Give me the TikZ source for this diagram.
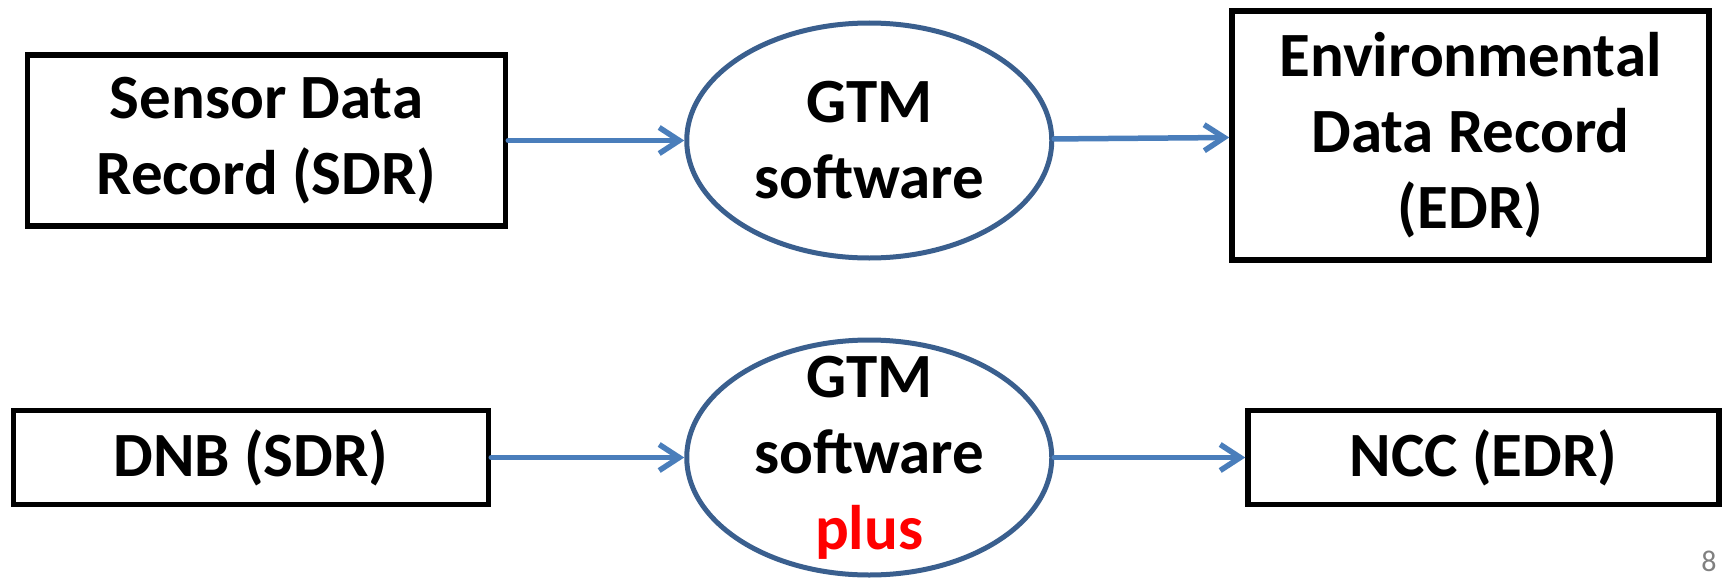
\documentclass[tikz,border=0pt]{standalone}
\usepackage{fontspec}
\setmainfont{Carlito}
\usetikzlibrary{arrows.meta,positioning,shapes.geometric}
\definecolor{flowblue}{HTML}{4A7EBB}
\definecolor{rimblue}{HTML}{3A5F8E}

\begin{document}
\begin{tikzpicture}[x=1pt,y=-1pt,
font=\bfseries\fontsize{63}{76}\selectfont,
record/.style={draw,line width=5.5pt,align=center,inner sep=0pt},
tool/.style={ellipse,draw=rimblue,line width=5pt,inner sep=0pt,minimum width=365pt,minimum height=235pt},
arr/.style={-{Straight Barb[length=20pt,width=26pt]},draw=flowblue,line width=5.5pt,line cap=round}]
\useasboundingbox (0,0) rectangle (1723,578);
\node[record,minimum width=478pt,minimum height=171pt](sdr) at (266.5,140.5){Sensor Data\\Record (SDR)};
\node[tool,right=176pt of sdr,label={[align=center]center:GTM\\software}](gtm){};
\node[record,minimum width=477pt,minimum height=249pt,right=175pt of gtm,yshift=5pt](edr){Environmental\\Data Record\\(EDR)};
\node[record,minimum width=475pt,minimum height=94pt](dnb) at (251,457.5){DNB (SDR)};
\node[tool,right=193pt of dnb,label={[align=center]center:GTM\\software\\\textcolor{red}{plus}}](gtmplus){};
\node[record,minimum width=471pt,minimum height=94pt,right=191pt of gtmplus](ncc){NCC (EDR)};
\node[font=\fontsize{30}{32}\selectfont,text=gray,inner sep=0pt](pagenum) at (1709,561){8};
\draw[arr](sdr)--(gtm);
\draw[arr](gtm)--(edr);
\draw[arr](dnb)--(gtmplus);
\draw[arr](gtmplus)--(ncc);
\end{tikzpicture}
\end{document}
